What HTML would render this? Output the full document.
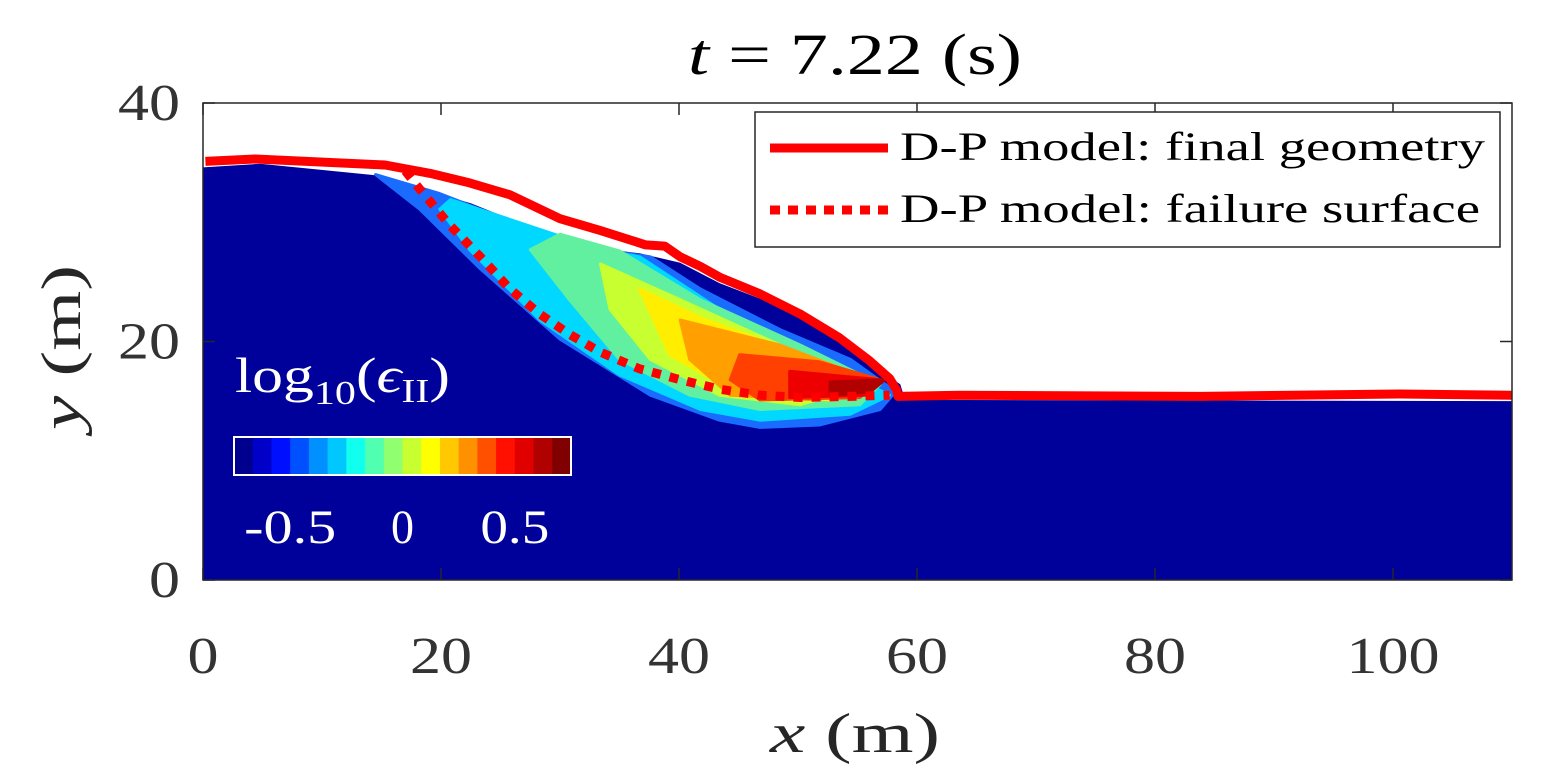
<!DOCTYPE html>
<html><head><meta charset="utf-8"><style>
body{margin:0;background:#fff;overflow:hidden;}
svg text{font-family:"Liberation Serif","DejaVu Serif",serif;}
</style></head><body>
<svg id="chart" width="1545" height="771" viewBox="0 0 1545 771" xmlns="http://www.w3.org/2000/svg">
<g id="plot"></g>
<text x="235" y="392" font-size="50" fill="#fff" textLength="215" lengthAdjust="spacingAndGlyphs">log<tspan font-size="34" dy="12">10</tspan><tspan dy="-12">(</tspan><tspan font-style="italic">ϵ</tspan><tspan font-size="34" dy="10">II</tspan><tspan dy="-10">)</tspan></text>
<g>
<rect x="755" y="112" width="745" height="135" fill="#fff" stroke="#262626" stroke-width="1.5"/>
<line x1="770" y1="148" x2="888" y2="148" stroke="#ff0000" stroke-width="9"/>
<text x="900" y="160" font-size="40" fill="#000" textLength="585" lengthAdjust="spacingAndGlyphs">D-P model: final geometry</text>
<line x1="770" y1="210" x2="888" y2="210" stroke="#ff0000" stroke-width="9" stroke-dasharray="10 8"/>
<text x="900" y="222" font-size="40" fill="#000" textLength="580" lengthAdjust="spacingAndGlyphs">D-P model: failure surface</text>
</g>
<text x="688" y="74" font-size="58" fill="#000" textLength="334" lengthAdjust="spacingAndGlyphs"><tspan font-style="italic">t</tspan> = 7.22 (s)</text>
<text transform="translate(80,430) rotate(-90)" font-size="56" fill="#262626" textLength="165" lengthAdjust="spacingAndGlyphs"><tspan font-style="italic">y</tspan> (m)</text>
<text x="770" y="752" font-size="56" fill="#262626" textLength="170" lengthAdjust="spacingAndGlyphs"><tspan font-style="italic">x</tspan> (m)</text>
</svg>
<script>
const xTicks=[0,20,40,60,80,100];
const yTicks=[0,20,40];
const bodyTop=[[0,34.6],[4.8,34.9],[14.9,33.9],[18.3,32.8],[22.5,31.6],[26.7,29.9],[30.0,28.7],[33.4,27.8],[36.7,27.4],[40.1,26.6],[43.4,24.9],[46.8,23.6],[50.2,21.9],[53.5,20.3],[56.9,17.6],[58.6,16.4],[59.0,15.1],[110,15.0]];
const finalGeom=[[0.2,35.1],[4.4,35.3],[15.3,34.8],[19.1,34.1],[22.4,33.3],[25.8,32.3],[30.0,30.3],[33.4,29.3],[37.2,28.1],[38.8,28.0],[40.1,27.1],[41.8,26.3],[43.4,25.4],[46.8,24.0],[50.2,22.3],[53.5,20.3],[56.0,18.4],[57.7,16.9],[58.3,15.9],[58.4,15.4],[63.6,15.5],[83.8,15.4],[100.6,15.6],[110,15.5]];
const failureSurf=[[17.0,34.3],[18.2,32.8],[20.7,29.8],[23.3,27.1],[25.8,24.4],[28.3,22.3],[30.8,20.6],[33.4,19.1],[36.7,17.7],[40.1,16.8],[43.4,16.0],[46.8,15.5],[50.2,15.3],[54.4,15.4],[57.7,15.5]];
const plumeColors=['#1a6cff','#00d8ff','#60f0a0','#c8ff30','#ffee00','#ffa000','#ff4000','#ee0000','#b00000'];
const plumeBands=[
[[14.5,34.0],[19.9,32.4],[26.6,29.8],[33.4,27.7],[37.6,27.1],[41.8,24.4],[48.5,21.0],[54.4,18.5],[58.2,15.8],[56.9,14.3],[51.8,13.0],[46.8,12.8],[43.4,13.4],[37.6,15.5],[30.0,20.2],[23.3,26.1],[18.2,31.1]],
[[20.8,31.9],[33.4,27.7],[36.7,27.1],[43.4,22.7],[51.8,18.5],[57.7,15.5],[54.4,13.9],[46.8,13.4],[41.8,14.3],[35.0,17.2],[28.3,21.8],[22.4,27.7],[19.9,31.1]],
[[30.0,29.0],[35.0,27.6],[41.8,23.5],[50.2,19.7],[56.9,16.4],[55.2,14.7],[46.8,14.3],[40.9,15.5],[35.0,18.5],[30.8,23.5],[27.5,27.7]],
[[33.4,26.5],[40.1,23.5],[48.5,19.7],[56.1,16.4],[50.2,14.7],[43.4,15.5],[37.6,18.5],[34.2,22.7]],
[[36.7,24.4],[41.8,22.0],[50.2,18.9],[56.1,16.4],[52.7,15.1],[45.1,15.5],[39.2,18.9]],
[[40.1,21.8],[48.5,19.7],[56.1,16.8],[51.8,15.1],[44.3,15.5],[40.9,18.5]],
[[45.1,18.9],[51.8,18.3],[56.9,16.8],[55.2,15.3],[46.8,15.1],[44.3,16.8]],
[[49.3,17.5],[56.9,16.8],[55.6,15.5],[49.3,15.3]],
[[52.7,16.6],[57.3,16.8],[56.1,15.8],[52.7,15.5]]];
const cbColors=['#00008f','#0000c8','#0010ff','#0050ff','#0090ff','#00c8ff','#10ffef','#50ffaf','#90ff70','#c8ff30','#ffff00','#ffc800','#ff9000','#ff5000','#ff1000','#e00000','#b00000','#800000'];
const cbTicks=[-0.5,0,0.5];
const cbMin=-0.75,cbMax=0.75;

const X0=203,X1=1512,Y0=580,Y1=103,xmax=110,ymax=40;
const sx=v=>X0+v*(X1-X0)/xmax;
const sy=v=>Y0-v*(Y0-Y1)/ymax;
const NS='http://www.w3.org/2000/svg';
const g=document.getElementById('plot');
function mk(tag,attrs,parent){const e=document.createElementNS(NS,tag);for(const k in attrs)e.setAttribute(k,attrs[k]);(parent||g).appendChild(e);return e;}
const pts=a=>a.map(p=>sx(p[0]).toFixed(1)+','+sy(p[1]).toFixed(1)).join(' ');
const digitW=31;

const body=mk('polygon',{points:pts([[0,0]].concat(bodyTop).concat([[110,0]])),fill:'#00009b'});


plumeBands.forEach((b,i)=>{
 const p=mk('polygon',{points:pts(b),fill:plumeColors[i],'stroke':plumeColors[i],'stroke-width':3,'stroke-linejoin':'round'});
 
 
});
const fs=mk('polyline',{points:pts(failureSurf),fill:'none',stroke:'#ff0000','stroke-width':9,'stroke-dasharray':'9 9'});


const fg=mk('polyline',{points:pts(finalGeom),fill:'none',stroke:'#ff0000','stroke-width':9,'stroke-linejoin':'round'});



const ax=mk('rect',{x:X0,y:Y1,width:X1-X0,height:Y0-Y1,fill:'none',stroke:'#262626','stroke-width':1.5});


xTicks.forEach(v=>{
 mk('line',{x1:sx(v),x2:sx(v),y1:Y0,y2:Y0-12,stroke:'#262626','stroke-width':1.5});
 mk('line',{x1:sx(v),x2:sx(v),y1:Y1,y2:Y1+12,stroke:'#262626','stroke-width':1.5});
 const s=String(v);
 const t=mk('text',{x:sx(v),y:673,'text-anchor':'middle','font-size':52,fill:'#333',textLength:s.length*digitW,lengthAdjust:'spacingAndGlyphs'});
 t.textContent=s;
 
 
});
yTicks.forEach(v=>{
 mk('line',{x1:X0,x2:X0+12,y1:sy(v),y2:sy(v),stroke:'#262626','stroke-width':1.5});
 mk('line',{x1:X1,x2:X1-12,y1:sy(v),y2:sy(v),stroke:'#262626','stroke-width':1.5});
 const s=String(v);
 const t=mk('text',{x:180,y:sy(v)+17,'text-anchor':'end','font-size':52,fill:'#333',textLength:s.length*digitW,lengthAdjust:'spacingAndGlyphs'});
 t.textContent=s;
 
 
});

const cbx0=234,cbx1=571,cby0=437,cby1=475;
const cw=(cbx1-cbx0)/cbColors.length;
cbColors.forEach((c,i)=>{
 const r=mk('rect',{x:cbx0+i*cw,y:cby0,width:cw+0.5,height:cby1-cby0,fill:c});
 
 
});
const cbb=mk('rect',{x:cbx0,y:cby0,width:cbx1-cbx0,height:cby1-cby0,fill:'none',stroke:'#fff','stroke-width':2});


cbTicks.forEach(v=>{
 const x=cbx0+(v-cbMin)/(cbMax-cbMin)*(cbx1-cbx0);
 const s=String(v);
 const t=mk('text',{x:x,y:543,'text-anchor':'middle','font-size':48,fill:'#fff',textLength:s.length*23,lengthAdjust:'spacingAndGlyphs'});
 t.textContent=s;
 
 
});
</script>
</body></html>
